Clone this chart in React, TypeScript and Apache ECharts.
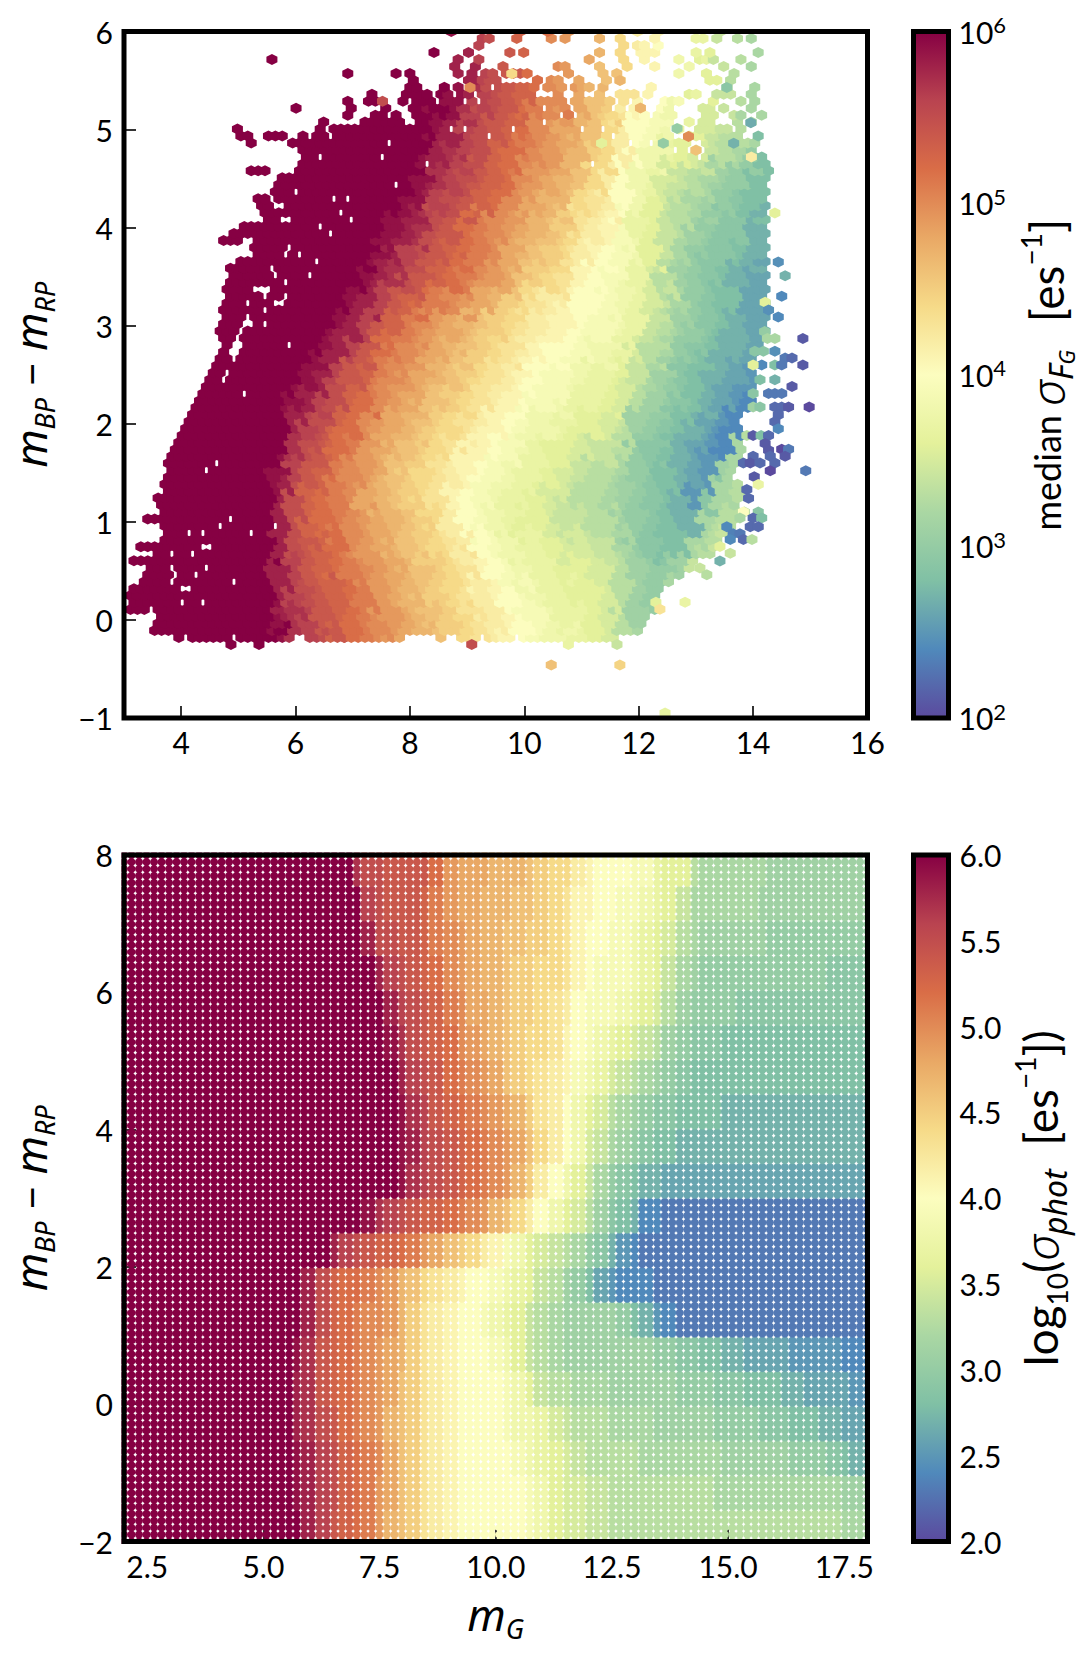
import { useEffect, useRef } from "react";
import * as echarts from "echarts";

const FONT = "Lato";
const MATH = "Noto Sans";
const INK = "#000000";

// colour ramp, evenly spaced from log10 = 2 to log10 = 6
const rampColors = [
  "#5b4a9e", "#5089bb", "#80c0a5", "#aad7a3", "#e4f19b", "#fcfdbf",
  "#f6da88", "#e9a865", "#d96d47", "#b94350", "#860043",
];

const topXTicks = [4, 6, 8, 10, 12, 14, 16];
const bottomXTicks = [2.5, 5, 7.5, 10, 12.5, 15, 17.5];

// top panel: log10(sigma)*10, rows y = -0.25, 0, 0.25 ... 5.5; columns x = 5.5, 5.75 ... 14.25 (left of 5.5 is saturated)
const hexField = [
  [60,60,57,56,55,54,52,51,50,49,48,47,46,45,44,43,42,41,40,39,38,38,37,36,35,33,32,30,30,30,30,30,30,30,30,30],
  [60,59,57,56,54,53,52,51,50,49,48,47,46,45,44,43,42,41,40,39,38,37,37,36,35,33,31,30,30,30,30,30,30,30,30,30],
  [60,58,56,55,54,53,52,51,49,48,47,46,45,44,43,42,41,40,39,38,37,37,36,36,35,33,31,30,32,33,33,33,33,33,33,33],
  [60,58,56,54,53,52,51,50,49,48,47,46,45,44,43,41,40,39,38,37,37,36,36,35,35,33,31,30,30,31,34,36,36,36,36,36],
  [60,58,55,54,53,52,50,49,48,47,46,45,44,43,42,40,39,38,37,37,36,35,35,34,34,32,30,29,28,28,32,33,34,34,34,34],
  [60,58,55,53,52,51,50,49,48,47,46,45,44,42,40,39,38,37,36,36,35,34,34,33,33,31,30,29,28,27,27,32,33,33,33,33],
  [60,58,55,53,52,51,50,48,47,46,45,44,43,41,40,39,38,37,37,36,35,34,33,33,32,31,30,29,28,27,25,29,32,33,33,33],
  [60,59,56,54,53,51,50,49,48,46,45,44,43,42,41,40,39,38,37,37,36,35,34,33,33,32,30,29,28,27,26,25,31,32,30,30],
  [60,60,57,55,54,52,51,49,48,47,46,45,44,43,41,41,40,39,38,37,36,36,35,34,34,33,30,29,28,27,26,25,24,32,27,27],
  [60,60,58,56,55,53,52,50,49,48,47,46,45,44,43,42,41,40,39,38,38,37,36,36,35,34,31,30,29,28,27,26,25,24,25,27],
  [60,60,59,58,56,55,53,52,50,49,48,47,46,45,44,43,42,41,40,39,39,38,37,37,36,35,33,31,30,29,28,27,26,25,24,24],
  [60,60,60,59,58,56,54,53,51,50,49,48,47,46,45,44,43,42,41,40,39,39,38,37,37,36,34,32,31,29,28,27,27,26,25,25],
  [60,60,60,60,59,58,56,54,52,51,50,49,48,47,46,45,44,43,42,41,40,40,39,38,38,37,35,33,32,30,29,28,27,27,26,26],
  [60,60,60,60,60,59,58,56,54,53,51,50,49,48,47,46,45,44,43,42,41,41,40,39,39,38,37,34,33,31,30,29,28,27,26,26],
  [60,60,60,60,60,60,59,58,56,54,53,52,51,50,49,48,47,45,44,43,42,41,40,40,39,38,37,35,34,32,30,29,28,28,26,26],
  [60,60,60,60,60,60,60,59,58,57,55,54,53,52,51,50,49,48,46,45,44,43,41,40,39,39,37,35,33,31,30,29,28,27,26,26],
  [60,60,60,60,60,60,60,60,59,58,56,55,54,53,52,51,50,48,47,46,45,44,42,41,40,39,38,36,34,32,30,29,29,28,27,27],
  [60,60,60,60,60,60,60,60,60,59,58,57,55,54,52,51,50,49,48,47,46,45,43,42,41,39,37,36,34,33,31,30,29,29,27,27],
  [60,60,60,60,60,60,60,60,60,60,59,58,56,55,54,53,52,50,49,48,47,46,44,43,42,40,38,36,34,33,32,31,30,29,28,28],
  [60,60,60,60,60,60,60,60,60,60,60,59,57,56,55,54,53,52,50,49,48,47,46,44,42,40,38,37,35,34,33,32,31,30,28,28],
  [60,60,60,60,60,60,60,60,60,60,60,60,58,57,56,55,53,52,51,50,49,48,47,45,44,42,40,38,37,36,35,34,33,32,30,28],
  [60,60,60,60,60,60,60,60,60,60,60,60,59,58,56,55,54,53,52,50,49,48,47,46,44,42,40,39,38,37,36,35,34,33,32,32],
  [60,60,60,60,60,60,60,60,60,60,60,60,60,59,57,56,55,54,53,51,50,49,48,46,45,43,41,40,39,38,36,35,34,33,32,32],
  [60,60,60,60,60,60,60,60,60,60,60,60,60,59,58,56,55,54,53,52,50,49,48,47,46,44,42,41,40,38,37,36,34,33,32,32],
];

// top panel: occupied hexes per row, [y, single x | [from x, to x], ...]
const hexRows: (number | number[])[][] = [
  [-0.178, 3.99, [4.2, 4.75], [5.1, 5.5], [5.6, 5.85], [6.3, 6.85], [6.9, 7.2], [7.37, 7.65], 7.77, [8.53, 8.6], [8.85, 9.18], [9.33, 9.46], [9.58, 9.8], [9.93, 10.28], [10.4, 10.57], [10.74, 10.86], [10.93, 11.03], [11.15, 11.38], 11.55],
  [-0.107, [3.58, 3.78], [3.87, 4.16], [4.2, 11.95]],
  [-0.036, [3.64, 3.8], [3.9, 12.06]],
  [0.035, [3.62, 12.14]],
  [0.106, [3.05, 3.32], [3.64, 3.95], [4.05, 12.25]],
  [0.177, [3.14, 3.49], [3.62, 4.05], [4.12, 12.26]],
  [0.248, [3.17, 3.46], [3.58, 12.3]],
  [0.319, [3.23, 3.46], [3.58, 3.95], [4.13, 12.4]],
  [0.39, [3.32, 3.43], [3.58, 3.75], [3.9, 3.95], [4.13, 12.55]],
  [0.461, [3.43, 3.75], [3.98, 12.69]],
  [0.532, [3.43, 3.7], [3.95, 12.9]],
  [0.603, [3.23, 3.37], [3.55, 3.85], [3.9, 13.0]],
  [0.674, [3.55, 13.25]],
  [0.745, [3.35, 3.49], [3.7, 13.25]],
  [0.816, [3.72, 13.35]],
  [0.887, [3.75, 13.5]],
  [0.958, [3.7, 3.85], [3.95, 13.6]],
  [1.029, [3.46, 3.64], [3.72, 13.7]],
  [1.1, [3.66, 13.8]],
  [1.171, [3.7, 13.7]],
  [1.242, 3.61, [3.72, 13.75]],
  [1.313, [3.75, 13.78]],
  [1.384, [3.75, 13.75]],
  [1.455, [3.78, 13.5]],
  [1.526, [3.78, 13.55]],
  [1.597, [3.8, 13.7]],
  [1.668, [3.82, 13.75]],
  [1.739, [3.93, 13.75]],
  [1.81, [3.95, 13.78]],
  [1.881, [4.0, 13.8]],
  [1.952, [4.05, 13.72]],
  [2.023, [4.12, 13.72]],
  [2.094, [4.2, 13.75]],
  [2.165, [4.25, 13.88]],
  [2.236, [4.28, 13.92]],
  [2.307, [4.34, 13.95]],
  [2.378, [4.42, 4.68], [4.8, 13.95]],
  [2.449, [4.55, 4.65], [4.82, 13.98]],
  [2.52, [4.55, 4.7], [4.9, 13.95]],
  [2.591, [4.6, 4.7], [4.86, 13.95]],
  [2.662, [4.72, 4.8], [5.0, 14.0]],
  [2.733, 4.75, [5.05, 14.05]],
  [2.804, [4.75, 4.8], [5.0, 14.1]],
  [2.875, [4.72, 4.9], [5.1, 14.1]],
  [2.946, [4.72, 4.95], [5.2, 14.15]],
  [3.017, [4.75, 5.0], [5.3, 14.15]],
  [3.088, [4.75, 5.0], [5.25, 5.35], [5.45, 14.15]],
  [3.159, [4.78, 5.3], [5.55, 14.1]],
  [3.23, [4.8, 5.1], [5.25, 5.5], [5.9, 14.15]],
  [3.301, [4.88, 5.05], [5.28, 5.4], [5.6, 5.7], [5.9, 14.15]],
  [3.372, [4.85, 5.15], [5.5, 5.6], [5.8, 14.15]],
  [3.443, [4.88, 5.3], 5.45, [5.55, 5.7], [5.9, 14.15]],
  [3.514, [4.9, 5.0], [5.2, 5.5], [5.75, 14.15]],
  [3.585, [4.9, 5.05], [5.15, 5.45], [5.7, 14.15]],
  [3.656, [5.0, 5.15], [5.3, 14.2]],
  [3.727, [5.3, 5.75], [5.95, 14.2]],
  [3.798, [5.3, 5.8], [5.95, 14.2]],
  [3.869, [4.8, 5.03], [5.35, 6.1], [6.2, 14.2]],
  [3.94, [4.95, 5.0], [5.1, 5.35], [5.55, 14.2]],
  [4.011, [5.1, 5.3], [5.5, 6.0], [6.1, 14.2]],
  [4.082, [5.55, 5.7], [6.0, 14.18]],
  [4.153, [5.45, 5.55], [5.65, 6.05], [6.15, 14.18]],
  [4.224, [5.4, 5.55], [5.85, 6.0], [6.1, 14.18]],
  [4.295, [5.4, 5.5], [5.7, 5.9], [6.05, 14.2]],
  [4.366, [5.65, 5.9], [6.15, 6.4], [6.45, 14.22]],
  [4.437, [5.7, 6.05], [6.1, 14.2]],
  [4.508, [5.72, 6.0], [6.15, 6.3], [6.35, 14.22]],
  [4.579, [5.25, 5.5], [6.05, 6.3], [6.45, 14.22]],
  [4.65, [6.1, 6.4], [6.55, 14.22]],
  [4.721, [6.2, 6.3], [6.5, 12.78], 12.95, [13.2, 14.15]],
  [4.792, [6.1, 6.2], [6.35, 6.45], [6.6, 12.78], 13.0, [13.3, 13.95]],
  [4.863, 5.2, [6.0, 6.15], [6.3, 6.7], [6.8, 12.78], 13.19, [13.3, 13.9], 14.0],
  [4.934, [5.05, 5.18], [5.55, 5.75], 6.08, [6.35, 6.45], [6.72, 12.55], 12.87, [13.0, 13.13], [13.2, 13.5], [13.6, 13.77], 14.09],
  [5.005, 5.0, 6.4, [6.68, 7.55], [7.6, 8.0], [8.1, 11.4], [11.55, 12.49], 12.7, [13.1, 13.42], 13.54, 13.74],
  [5.076, 6.45, [7.2, 7.55], [7.65, 7.83], 8.12, [8.35, 10.8], [10.98, 11.55], [11.68, 12.55], 12.87, 13.1, 13.25, 13.74, 13.96],
  [5.147, 6.92, [7.37, 7.54], 7.75, [8.06, 8.24], [8.35, 10.63], 10.77, [11.03, 11.56], [11.67, 12.14], [12.31, 12.55], [13.18, 13.36], [13.66, 13.83], 14.15],
  [5.218, 6.0, [6.92, 7.0], 7.54, [8.06, 8.24], [8.35, 10.28], [10.45, 10.68], [10.9, 11.44], 11.73, 11.96, [12.43, 12.55], [13.1, 13.25], 13.48, 13.96],
  [5.289, 6.92, [7.28, 7.4], 7.89, [8.12, 8.41], [8.59, 8.82], 9.05, [9.29, 10.28], [10.45, 10.68], [10.92, 11.44], 11.73, 11.96, [12.43, 12.72], 13.3, 13.78, 14.02],
  [5.36, 7.35, [7.89, 8.24], [8.53, 8.7], [8.88, 9.05], [9.23, 9.46], [9.58, 10.1], 10.57, 10.98, 11.33, [11.67, 11.91], 12.14, [12.87, 13.0], [13.36, 13.66], 13.96],
  [5.431, [7.95, 8.06], 8.59, 8.82, [9.05, 9.37], 9.52, [9.7, 10.1], 10.22, [10.45, 10.6], [10.92, 11.1], 11.33, 12.2, 13.54, 14.02],
  [5.502, 8.0, [8.99, 9.4], 9.52, 10.22, [10.45, 10.57], 10.98, 11.38, 11.67, [13.24, 13.36], 13.6],
  [5.573, 6.92, 7.77, 8.0, 8.84, 9.11, [9.35, 9.49], [9.7, 10.1], 10.77, 11.33, 11.62, 12.7, 13.18, 13.66],
  [5.644, 8.84, 9.2, 9.62, 10.57, 10.71, 11.33, 11.79, 12.26, 12.87, 13.48, 13.96],
  [5.715, 5.6, 8.84, 9.2, 11.13, 11.79, 12.08, 12.7, [13.05, 13.3], 13.78],
  [5.786, 8.43, 9.03, 9.75, 9.99, 11.31, 11.73, [12.0, 12.25], 12.95, 13.25, 14.09],
  [5.857, 9.21, 11.73, [11.96, 12.14], 12.3],
  [5.928, [9.26, 9.39], 9.87, 10.48, 10.71, 11.3, 11.67, 12.25, [13.05, 13.13], 13.36, 13.72, 13.96],
  [5.999, 8.72, 9.93, 10.35, 10.75, 11.97, 12.3, 13.4],
];

// top panel: empty cells inside the cloud, [x, y]
const hexHoles = [
  [4.45, 1.53], [4.63, 1.6], [4.15, 0.89], [4.39, 0.89], [4.69, 0.96], [4.87, 1.03], [5.24, 0.89], [5.66, 0.96],
  [4.39, 0.75], [4.51, 0.75], [4.21, 0.68], [3.85, 0.68], [4.45, 0.54], [4.94, 0.4], [4.39, 0.18], [4.28, 0.46],
  [4.16, 0.31], [4.02, 0.17], [5.11, 2.31], [5.9, 2.8], [5.47, 3.0], [5.06, 2.8], [4.86, 2.74], [6.38, 3.65],
  [6.26, 3.51], [6.07, 3.72], [5.59, 3.58], [5.53, 3.37], [6.97, 4.08], [6.8, 4.15], [6.68, 4.29], [6.92, 4.29],
  [7.76, 4.44], [7.52, 4.72], [7.64, 4.86], [6.43, 4.0], [6.6, 3.94], [8.31, 4.65], [9.39, 4.93], [9.81, 5.0],
  [8.96, 5.0], [8.72, 5.0], [11.21, 4.65], [11.85, 4.86], [12.21, 4.86], [12.64, 4.79], [10.35, 5.07], [10.65, 5.15],
  [11.0, 5.0], [11.37, 5.0], [11.56, 4.93],
];

// top panel: hexes whose colour stands out from their neighbours, [x, y, log10(sigma)*10]
const hexOddOnes = [
  [14.38, 4.15, 36], [14.44, 3.65, 24.5], [14.56, 3.51, 27], [14.5, 3.3, 24], [14.21, 3.24, 36], [14.27, 3.16, 24.5],
  [14.44, 3.09, 24], [14.2, 2.94, 30], [14.25, 2.87, 32], [14.38, 2.87, 32], [14.87, 2.87, 21], [14.18, 2.74, 29],
  [14.03, 2.74, 29], [14.38, 2.74, 24.5], [14.56, 2.67, 23], [14.68, 2.67, 22], [14.15, 2.6, 24], [14.0, 2.6, 36],
  [14.38, 2.6, 28], [14.5, 2.6, 23], [14.87, 2.6, 21], [14.38, 2.45, 27], [14.12, 2.45, 28], [14.68, 2.38, 21],
  [14.0, 2.31, 29], [14.27, 2.31, 23], [14.38, 2.31, 23], [14.5, 2.31, 23], [14.0, 2.17, 31], [14.12, 2.17, 29],
  [14.38, 2.17, 22], [14.5, 2.17, 22], [14.62, 2.17, 21], [14.98, 2.17, 20], [14.44, 2.09, 22], [14.38, 2.02, 22],
  [14.44, 1.95, 24], [13.89, 1.88, 33], [14.0, 1.88, 21], [14.14, 1.88, 28], [14.27, 1.88, 22], [14.21, 1.8, 21],
  [14.27, 1.73, 21], [14.5, 1.74, 20], [14.62, 1.74, 23], [14.0, 1.67, 22], [14.3, 1.67, 22], [14.56, 1.67, 21],
  [13.83, 1.6, 22], [13.95, 1.6, 21], [14.12, 1.6, 22], [14.38, 1.6, 22], [14.3, 1.52, 20], [14.92, 1.52, 23],
  [14.02, 1.46, 21], [14.09, 1.38, 37], [13.89, 1.33, 22], [13.92, 1.24, 22], [13.83, 1.1, 40], [14.09, 1.1, 29],
  [13.77, 1.04, 32], [14.0, 1.04, 22], [14.15, 1.04, 28], [13.54, 0.95, 24], [13.95, 0.95, 22], [14.09, 0.95, 22],
  [13.65, 0.88, 23.5], [13.77, 0.88, 23], [13.6, 0.82, 24], [13.83, 0.82, 22], [13.98, 0.82, 33], [13.42, 0.75, 36],
  [13.6, 0.68, 34], [13.42, 0.6, 27], [13.07, 0.53, 34], [13.19, 0.46, 33], [12.81, 0.18, 37], [12.3, 0.18, 36],
  [12.37, 0.11, 43], [9.08, -0.25, 55], [10.77, -0.25, 37], [11.62, -0.25, 34], [4.87, -0.25, 60], [5.36, -0.25, 60],
  [10.47, -0.46, 46], [11.67, -0.46, 44.5], [12.46, -0.95, 36.5], [7.52, 5.29, 55], [9.05, 5.43, 50], [9.78, 5.57, 44],
  [10.77, 5.15, 51], [11.35, 4.86, 36], [12.43, 4.86, 30], [12.67, 5.01, 30], [12.87, 4.93, 50], [13.0, 4.79, 46],
  [13.97, 4.72, 42], [13.96, 5.07, 26.5], [13.66, 4.86, 27], [13.54, 5.43, 29], [12.03, 5.22, 47], [11.67, 5.5, 47],
];

// bottom panel: log10(sigma)*10, rows y from -2 upward in 0.5 bands; columns x = 5, 5.25 ... 18 (left of 5 is saturated)
const dotField = [
  [60,60,60,60,58,56,54,53,52,51,49,47,46,45,43,42,41,40,40,40,40,40,40,39,38,36,35,35,34,34,33,33,33,33,33,33,33,33,33,33,33,33,33,33,33,33,33,33,33,33,32,32,32],
  [60,60,60,59,58,56,55,53,52,51,49,48,46,45,43,42,41,40,40,40,40,40,40,39,38,36,35,35,34,34,33,33,33,33,33,33,33,33,33,32,32,32,32,32,32,32,32,32,32,32,31,31,31],
  [60,60,60,59,58,56,55,53,52,51,50,48,46,45,43,42,41,40,40,40,40,40,39,38,37,36,35,34,33,33,33,33,33,32,32,32,32,32,32,32,31,31,31,31,31,31,30,30,30,29,28,27,27],
  [60,60,60,58,57,55,54,52,51,50,49,47,46,45,43,42,41,40,40,40,40,39,38,38,37,35,34,33,33,33,32,32,32,32,31,31,31,31,31,30,30,30,30,29,29,29,28,28,27,27,26,26,26],
  [60,60,60,58,57,54,53,52,51,50,49,48,46,45,43,42,41,40,40,40,40,39,38,36,34,33,33,32,32,32,31,31,31,31,31,31,30,30,30,29,29,29,28,28,28,27,27,26,26,26,26,25,25],
  [60,60,60,59,57,54,53,52,51,50,49,48,47,45,43,42,41,40,40,40,39,38,36,34,33,32,31,31,31,31,31,31,31,31,30,30,29,29,28,28,27,27,26,26,26,26,25,25,25,25,24,24,24],
  [60,60,60,60,58,55,53,52,51,50,50,49,47,45,43,42,41,40,40,39,38,37,36,34,33,32,31,31,31,31,31,30,28,27,25,24,23,23,23,23,23,23,23,23,23,23,23,23,23,23,23,23,23],
  [60,60,60,60,58,55,53,52,52,51,50,49,47,46,44,43,42,41,40,40,39,38,37,36,34,33,31,30,28,26,25,24,24,24,23,23,23,23,23,23,23,23,23,23,23,23,23,23,23,23,23,23,23],
  [60,60,60,60,60,60,58,56,55,54,53,53,52,51,49,48,46,45,44,42,41,39,38,36,35,34,33,32,30,29,27,25,24,23,23,23,23,23,23,23,23,23,23,23,23,23,23,23,23,23,23,23,23],
  [60,60,60,60,60,60,60,60,60,59,57,56,55,54,53,53,52,51,50,49,47,46,44,42,40,38,36,35,33,31,29,28,27,24,24,23,23,23,23,23,23,23,23,23,23,23,23,23,23,23,23,23,23],
  [60,60,60,60,60,60,60,60,60,60,60,60,59,57,56,55,54,53,52,51,50,49,47,45,42,40,38,36,34,32,30,29,28,27,27,26,26,26,26,26,26,26,26,26,26,26,26,26,26,26,26,26,26],
  [60,60,60,60,60,60,60,60,60,60,60,60,59,58,56,55,54,53,52,51,50,49,48,46,44,42,40,38,35,34,32,31,30,29,28,28,27,27,27,27,27,27,27,27,27,27,27,27,27,27,27,27,27],
  [60,60,60,60,60,60,60,60,60,60,60,60,59,57,56,54,53,52,51,50,49,48,47,45,43,42,40,38,36,35,33,32,31,30,29,29,28,28,28,28,27,27,27,27,27,27,27,27,27,27,27,27,27],
  [60,60,60,60,60,60,60,60,60,60,60,60,58,56,55,54,52,51,50,49,48,46,45,44,43,42,41,39,38,37,35,34,33,32,31,30,29,28,28,28,28,28,28,28,28,28,28,28,28,28,28,28,28],
  [60,60,60,60,60,60,60,60,60,60,60,59,57,55,54,53,52,50,49,48,47,46,45,44,44,43,41,40,39,38,37,36,35,34,33,31,30,29,29,29,28,28,28,28,28,28,28,28,28,28,28,28,28],
  [60,60,60,60,60,60,60,60,60,60,60,58,56,55,54,53,51,50,48,48,47,46,45,45,44,43,42,40,39,39,39,38,37,36,35,33,31,30,30,30,30,29,29,29,29,29,29,29,29,29,29,29,29],
  [60,60,60,60,60,60,60,60,60,60,58,56,55,54,53,52,50,49,48,47,47,46,45,45,44,44,43,41,40,39,39,39,38,37,36,34,32,31,30,30,30,30,30,30,30,30,30,30,30,29,29,29,29],
  [60,60,60,60,60,60,60,60,60,58,55,55,54,54,53,51,50,49,48,47,47,46,46,45,45,44,43,41,40,40,39,39,38,37,36,35,33,32,31,31,31,31,31,31,30,30,30,30,30,30,30,30,30],
  [60,60,60,60,60,60,60,60,60,56,55,54,54,54,53,51,49,48,48,47,47,47,46,46,45,44,43,41,41,40,40,39,39,38,37,36,34,32,32,32,32,32,32,31,31,31,31,31,31,31,31,31,31],
  [60,60,60,60,60,60,60,60,57,55,55,54,54,54,54,52,49,48,48,48,47,47,47,46,45,44,44,42,41,40,40,40,39,39,37,36,36,33,32,32,32,32,32,32,31,31,31,31,31,31,31,31,31],
];

const ROW_STEP = 0.071;
const COL_STEP = 0.1206;
const ROW_ZERO_Y = 4.153;
const COL_ZERO_X = 14.39;

// sampling offsets so the table's block edges don't show as stairs in the hexes
const rowShift = [-0.1, 0.05, -0.02, 0.09, -0.06, 0.02, -0.04];
const colShift = [0.08, -0.05, 0.02, -0.09, 0.05, -0.02, 0.1];

const rowOf = (y: number) => Math.round((y - ROW_ZERO_Y) / ROW_STEP);
const rowBase = (row: number) => COL_ZERO_X + (row % 2 !== 0 ? COL_STEP / 2 : 0);
const mod = (a: number, b: number) => ((a % b) + b) % b;

const lookupHex = (x: number, y: number) => {
  if (x < 5.5) return 6;
  const r = Math.max(0, Math.min(hexField.length - 1, Math.round((y + 0.25) / 0.25)));
  const cols = hexField[r];
  const c = Math.max(0, Math.min(cols.length - 1, Math.round((x - 5.5) / 0.25)));
  return cols[c] / 10;
};

const lookupDot = (x: number, y: number) => {
  if (x < 5) return 6;
  const r = Math.max(0, Math.min(dotField.length - 1, Math.floor((y + 2) / 0.5)));
  const cols = dotField[r];
  const c = Math.min(cols.length - 1, Math.round((x - 5) / 0.25));
  return cols[c] / 10;
};

const buildHexData = () => {
  const holes = new Set(
    hexHoles.map(([x, y]) => {
      const row = rowOf(y);
      return `${row}:${Math.round((x - rowBase(row)) / COL_STEP)}`;
    }),
  );
  const out: number[][] = [];
  hexRows.forEach(([yy, ...spans]) => {
    const row = rowOf(yy as number);
    const y = ROW_ZERO_Y + row * ROW_STEP;
    const base = rowBase(row);
    spans.forEach((s) => {
      const [a, b] = Array.isArray(s) ? s : [s, s];
      const first = Math.round((a - base) / COL_STEP);
      const last = Math.max(first, Math.round((b - base) / COL_STEP));
      for (let k = first; k <= last; k++) {
        if (holes.has(`${row}:${k}`)) continue;
        const x = base + k * COL_STEP;
        const v = lookupHex(
          x + colShift[mod(5 * row + 3 * k, 7)],
          y + rowShift[mod(3 * row + 5 * k, 7)],
        );
        out.push([x, y, v]);
      }
    });
  });
  hexOddOnes.forEach(([x, y, v]) => out.push([x, y, v / 10]));
  return out;
};

// the panel's own sample grid, 100 x 100 over the axis limits
const buildDotData = () => {
  const out: number[][] = [];
  for (let i = 0; i < 100; i++) {
    for (let j = 0; j < 100; j++) {
      const x = 2 + (16 * i) / 99;
      const y = -2 + (10 * j) / 99;
      out.push([x, y, lookupDot(x, y)]);
    }
  }
  return out;
};

const PANEL_LEFT = 123.5;
const PANEL_W = 744;
const PANEL_H = 686.5;
const TOP_Y = 31.5;
const BOTTOM_Y = 855;
const BAR_LEFT = 913.5;
const BAR_W = 35;

const HEX = "path://M0,-1L0.866,-0.5L0.866,0.5L0,1L-0.866,0.5L-0.866,-0.5Z";

const minus = (v: number) => String(v).replace("-", "\u2212");

const titleRich = {
  m: { fontFamily: MATH, fontStyle: "italic", fontSize: 44, color: INK, lineHeight: 56 },
  s: { fontFamily: MATH, fontStyle: "italic", fontSize: 27, color: INK, verticalAlign: "bottom", lineHeight: 38 },
  o: { fontFamily: FONT, fontSize: 43, color: INK, lineHeight: 56 },
};
const barRich = {
  r: { fontFamily: FONT, fontSize: 36, color: INK, lineHeight: 60 },
  big: { fontFamily: FONT, fontSize: 46, color: INK, lineHeight: 60 },
  g: { fontFamily: MATH, fontWeight: 300, fontStyle: "italic", fontSize: 46, color: INK, lineHeight: 60 },
  s: { fontFamily: MATH, fontStyle: "italic", fontSize: 32, color: INK, verticalAlign: "bottom", lineHeight: 42 },
  ss: { fontFamily: MATH, fontStyle: "italic", fontSize: 22, color: INK, verticalAlign: "bottom", lineHeight: 30 },
  n: { fontFamily: FONT, fontSize: 28, color: INK, verticalAlign: "bottom", lineHeight: 38 },
  u: { fontFamily: FONT, fontSize: 28, color: INK, verticalAlign: "top", lineHeight: 40 },
};
const powerRich = {
  b: { fontFamily: FONT, fontSize: 30, color: INK, lineHeight: 36 },
  p: { fontFamily: FONT, fontSize: 22, color: INK, verticalAlign: "top", lineHeight: 22 },
};

const tickLabel = {
  fontFamily: FONT,
  fontSize: 30,
  color: INK,
  margin: 11,
  hideOverlap: false,
  showMinLabel: true,
  showMaxLabel: true,
};
const tickLine = { show: true, inside: true, length: 12, lineStyle: { color: "#000", width: 1.6 } };
const noLine = { show: false, onZero: false };

const frame = (x: number, y: number, width: number, height: number) => ({
  type: "rect",
  shape: { x, y, width, height },
  style: { fill: "none", stroke: "#000", lineWidth: 5 },
});

// panel outline as a series on top of the marks: a white ring cuts marks off, then the black frame
const panelFrame = (xAxisIndex: number, limits: number[]) => ({
  type: "custom",
  xAxisIndex,
  yAxisIndex: xAxisIndex,
  z: 20,
  silent: true,
  clip: false,
  data: [limits],
  renderItem: (_: unknown, api: any) => {
    const a = api.coord([api.value(0), api.value(3)]);
    const b = api.coord([api.value(2), api.value(1)]);
    const w = b[0] - a[0];
    const h = b[1] - a[1];
    return {
      type: "group",
      children: [
        {
          type: "rect",
          shape: { x: a[0] - 5.5, y: a[1] - 5.5, width: w + 11, height: h + 11 },
          style: { fill: "none", stroke: "#fff", lineWidth: 6 },
        },
        frame(a[0], a[1], w, h),
      ],
    };
  },
});

const barFill = (y: number) => ({
  type: "rect",
  shape: { x: BAR_LEFT, y, width: BAR_W, height: PANEL_H },
  style: {
    fill: new echarts.graphic.LinearGradient(
      0,
      0,
      0,
      1,
      [...rampColors].reverse().map((color, i) => ({ offset: i / (rampColors.length - 1), color })),
    ),
  },
});

const App = () => {
  const ref = useRef<HTMLDivElement>(null);

  useEffect(() => {
    if (!ref.current) return;
    const chart = echarts.init(ref.current, undefined, { renderer: "svg" });

    const option = {
      animation: false,
      backgroundColor: "#fff",
      grid: [
        { left: PANEL_LEFT, top: TOP_Y, width: PANEL_W, height: PANEL_H },
        { left: PANEL_LEFT, top: BOTTOM_Y, width: PANEL_W, height: PANEL_H },
        { left: BAR_LEFT, top: TOP_Y, width: BAR_W, height: PANEL_H },
        { left: BAR_LEFT, top: BOTTOM_Y, width: BAR_W, height: PANEL_H },
      ],
      xAxis: [
        {
          gridIndex: 0,
          type: "value",
          min: 3,
          max: 16,
          splitLine: { show: false },
          axisLine: noLine,
          axisTick: { ...tickLine, customValues: topXTicks },
          axisLabel: { ...tickLabel, margin: 9, customValues: topXTicks },
        },
        {
          gridIndex: 1,
          type: "value",
          min: 2,
          max: 18,
          splitLine: { show: false },
          axisLine: noLine,
          axisTick: { ...tickLine, customValues: bottomXTicks },
          axisLabel: {
            ...tickLabel,
            margin: 9,
            customValues: bottomXTicks,
            formatter: (v: number) => v.toFixed(1),
          },
          name: "{m|m}{s|G}",
          nameLocation: "middle",
          nameGap: 44,
          nameTextStyle: { rich: titleRich },
        },
        { gridIndex: 2, type: "value", min: 0, max: 1, show: false },
        { gridIndex: 3, type: "value", min: 0, max: 1, show: false },
      ],
      yAxis: [
        {
          gridIndex: 0,
          type: "value",
          min: -1,
          max: 6,
          interval: 1,
          splitLine: { show: false },
          axisLine: noLine,
          axisTick: tickLine,
          axisLabel: { ...tickLabel, formatter: minus },
          name: "{m|m}{s|BP}{o| \u2212 }{m|m}{s|RP}",
          nameLocation: "middle",
          nameRotate: 90,
          nameGap: 66,
          nameTextStyle: { rich: titleRich },
        },
        {
          gridIndex: 1,
          type: "value",
          min: -2,
          max: 8,
          interval: 2,
          splitLine: { show: false },
          axisLine: noLine,
          axisTick: tickLine,
          axisLabel: { ...tickLabel, formatter: minus },
          name: "{m|m}{s|BP}{o| \u2212 }{m|m}{s|RP}",
          nameLocation: "middle",
          nameRotate: 90,
          nameGap: 66,
          nameTextStyle: { rich: titleRich },
        },
        {
          gridIndex: 2,
          type: "value",
          position: "right",
          min: 2,
          max: 6,
          interval: 1,
          splitLine: { show: false },
          axisLine: noLine,
          axisTick: { show: false },
          axisLabel: {
            ...tickLabel,
            margin: 10,
            formatter: (v: number) => `{b|10}{p|${v}}`,
            rich: powerRich,
          },
          name: "{r|median }{g|\u03c3}{s|F}{ss|G}{r|   }{big|[es}{u|\u22121}{big|]}",
          nameLocation: "middle",
          nameRotate: 90,
          nameGap: 68,
          nameTextStyle: { rich: barRich },
        },
        {
          gridIndex: 3,
          type: "value",
          position: "right",
          min: 2,
          max: 6,
          interval: 0.5,
          splitLine: { show: false },
          axisLine: noLine,
          axisTick: { show: false },
          axisLabel: { ...tickLabel, formatter: (v: number) => v.toFixed(1) },
          name: "{big|log}{n|10}{big|(}{g|\u03c3}{s|phot}{big|  [es}{u|\u22121}{big|])}",
          nameLocation: "middle",
          nameRotate: 90,
          nameGap: 62,
          nameTextStyle: { rich: barRich },
        },
      ],
      visualMap: {
        show: false,
        type: "continuous",
        min: 2,
        max: 6,
        dimension: 2,
        seriesIndex: [0, 1],
        inRange: { color: rampColors },
      },
      series: [
        {
          type: "scatter",
          xAxisIndex: 0,
          yAxisIndex: 0,
          symbol: HEX,
          symbolKeepAspect: false,
          symbolSize: [11, 11],
          itemStyle: { opacity: 1 },
          silent: true,
          clip: true,
          progressive: 0,
          data: buildHexData(),
        },
        {
          type: "scatter",
          xAxisIndex: 1,
          yAxisIndex: 1,
          symbol: "circle",
          symbolSize: 8,
          itemStyle: { opacity: 1 },
          silent: true,
          clip: true,
          progressive: 0,
          data: buildDotData(),
        },
        panelFrame(0, [3, -1, 16, 6]),
        panelFrame(1, [2, -2, 18, 8]),
      ],
      graphic: {
        z: 100,
        elements: [
          barFill(TOP_Y),
          barFill(BOTTOM_Y),
          frame(BAR_LEFT, TOP_Y, BAR_W, PANEL_H),
          frame(BAR_LEFT, BOTTOM_Y, BAR_W, PANEL_H),
        ],
      },
    };

    chart.setOption(option as echarts.EChartsOption);
    return () => chart.dispose();
  }, []);

  return (
    <div
      ref={ref}
      style={{ position: "absolute", left: 0, top: 0, width: 1091, height: 1659 }}
    />
  );
};

export default App;
